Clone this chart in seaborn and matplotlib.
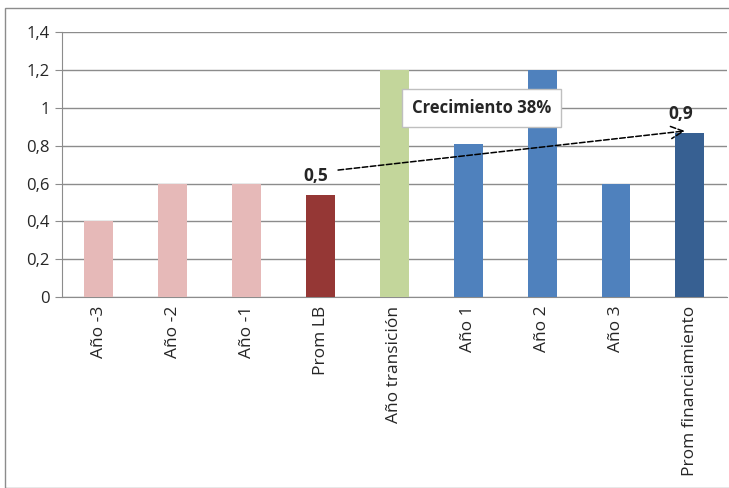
import matplotlib
matplotlib.use("Agg")
import matplotlib.pyplot as plt
import seaborn as sns
import pandas as pd
import numpy as np
from matplotlib.patches import Rectangle

# datos
categorias = ["Año -3", "Año -2", "Año -1", "Prom LB", "Año transición",
              "Año 1", "Año 2", "Año 3", "Prom financiamiento"]
valores = [0.4, 0.6, 0.6, 0.54, 1.2, 0.81, 1.2, 0.6, 0.87]
colores = ["#E6B9B8", "#E6B9B8", "#E6B9B8", "#953735", "#C3D69B",
           "#4F81BD", "#4F81BD", "#4F81BD", "#376092"]
y_ticks = [0, 0.2, 0.4, 0.6, 0.8, 1.0, 1.2, 1.4]
y_labels = ["0", "0,2", "0,4", "0,6", "0,8", "1", "1,2", "1,4"]

sns.set_style("white")
plt.rcParams["font.family"] = ["Open Sans", "DejaVu Sans"]

df = pd.DataFrame({"cat": categorias, "val": valores})

fig = plt.figure(figsize=(7.29, 4.88), dpi=100)
ax = fig.add_axes([0.085, 0.391, 0.912, 0.543])

sns.barplot(data=df, x="cat", y="val", hue="cat", palette=colores,
            legend=False, width=0.39, saturation=1, ax=ax, zorder=3,
            edgecolor="none", linewidth=0)

ax.set_ylim(0, 1.4)
ax.set_xlim(-0.5, len(categorias) - 0.5)
ax.set_yticks(y_ticks)
ax.set_yticklabels(y_labels, fontsize=12)
ax.yaxis.grid(True, color="#8C8C8C", linewidth=1, zorder=0)
ax.set_xlabel("")
ax.set_ylabel("")
ax.set_xticks(range(len(categorias)))
ax.set_xticklabels(categorias, rotation=90, fontsize=12.5)
ax.tick_params(axis="x", which="major", length=0, pad=6)
ax.set_xticks(np.arange(-0.5, len(categorias), 1), minor=True)
ax.tick_params(axis="x", which="minor", length=5, color="#8C8C8C", direction="out")
ax.tick_params(axis="y", length=5, color="#8C8C8C", direction="out", pad=4)
ax.tick_params(axis="y", left=True)
for s in ["top", "right"]:
    ax.spines[s].set_visible(False)
for s in ["left", "bottom"]:
    ax.spines[s].set_color("#8C8C8C")

# flecha de crecimiento
ax.annotate("", xy=(7.97, 0.88), xytext=(3.2, 0.67),
            arrowprops=dict(arrowstyle="->", linestyle="--", color="black",
                            linewidth=1.1, mutation_scale=22), zorder=5)
ax.text(2.94, 0.64, "0,5", fontsize=12.5, fontweight="bold", ha="center",
        va="center", zorder=6)
ax.text(7.88, 0.97, "0,9", fontsize=12.5, fontweight="bold", ha="center",
        va="center", zorder=6)
ax.text(5.18, 1.0, "Crecimiento 38%", fontsize=12, fontweight="bold",
        ha="center", va="center", zorder=6,
        bbox=dict(boxstyle="square,pad=0.6", facecolor="white",
                  edgecolor="#BFBFBF", linewidth=1))

# marco exterior del grafico
fig.patches.append(Rectangle((5 / 729, 0), 1, 1 - 8 / 488, transform=fig.transFigure,
                             fill=False, edgecolor="#8C8C8C", linewidth=1))

fig.savefig("out.png", dpi=100)
